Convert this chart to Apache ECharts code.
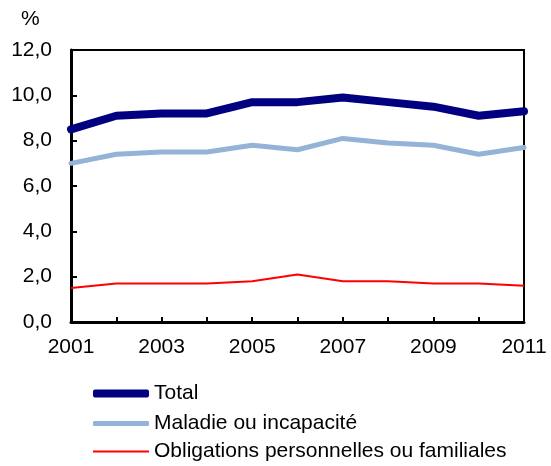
<html>
<head>
<meta charset="UTF-8"/>
<script src="https://cdn.jsdelivr.net/npm/echarts@6/dist/echarts.min.js"></script>
<style>
body { margin: 0; background: #fff; }
#chart { width: 551px; height: 466px; }
</style>
</head>
<body>
<div id="chart"></div>
<script>
var years = ["2001", "2002", "2003", "2004", "2005", "2006", "2007", "2008", "2009", "2010", "2011"];
var total = [8.5, 9.1, 9.2, 9.2, 9.7, 9.7, 9.9, 9.7, 9.5, 9.1, 9.3];
var maladie = [7.0, 7.4, 7.5, 7.5, 7.8, 7.6, 8.1, 7.9, 7.8, 7.4, 7.7];
var obligations = [1.5, 1.7, 1.7, 1.7, 1.8, 2.1, 1.8, 1.8, 1.7, 1.7, 1.6];
var names = ["Total", "Maladie ou incapacité", "Obligations personnelles ou familiales"];
var colors = ["#000080", "#95B3D7", "#FF0000"];
var widths = [8, 5, 2];

var font = "Liberation Sans, Arial, sans-serif";

// one legend per row so each icon gets its own thickness
function legendRow(i, top) {
	return {
		left: 88, top: top,
		icon: i < 2 ? "roundRect" : "rect",
		itemWidth: 56, itemHeight: widths[i],
		textStyle: { fontSize: 21, color: "#000", fontFamily: font },
		data: [names[i]]
	};
}

var chart = echarts.init(document.getElementById("chart"));
chart.setOption({
	animation: false,
	backgroundColor: "#fff",
	textStyle: { fontFamily: font },
	grid: {
		left: 71, right: 27, top: 50, bottom: 144,
		show: true, borderColor: "#000", borderWidth: 2
	},
	graphic: [{
		type: "text", left: 21, top: 9,
		style: { text: "%", font: "21px " + font, fill: "#000" }
	}],
	legend: [legendRow(0, 378), legendRow(1, 408), legendRow(2, 436)],
	xAxis: {
		type: "category",
		data: years,
		boundaryGap: false,
		axisLine: { lineStyle: { color: "#000", width: 3 } },
		axisTick: { inside: true, length: 5, interval: 0, lineStyle: { color: "#000", width: 2 } },
		axisLabel: { interval: 1, margin: 15, fontSize: 21, color: "#000", fontFamily: font }
	},
	yAxis: {
		type: "value",
		min: 0, max: 12, interval: 2,
		splitLine: { show: false },
		axisLine: { show: true, lineStyle: { color: "#000", width: 3 } },
		axisTick: { show: true, inside: true, length: 6, lineStyle: { color: "#000", width: 2 } },
		axisLabel: {
			margin: 19, fontSize: 21, color: "#000", fontFamily: font,
			formatter: function (v) { return v.toFixed(1).replace(".", ","); }
		}
	},
	series: [{
		name: names[0], type: "line", data: total, symbol: "none",
		lineStyle: { color: colors[0], width: widths[0], cap: "round" }, itemStyle: { color: colors[0] }
	}, {
		name: names[1], type: "line", data: maladie, symbol: "none",
		lineStyle: { color: colors[1], width: widths[1], cap: "round" }, itemStyle: { color: colors[1] }
	}, {
		name: names[2], type: "line", data: obligations, symbol: "none",
		lineStyle: { color: colors[2], width: widths[2] }, itemStyle: { color: colors[2] }
	}]
});
</script>
</body>
</html>
